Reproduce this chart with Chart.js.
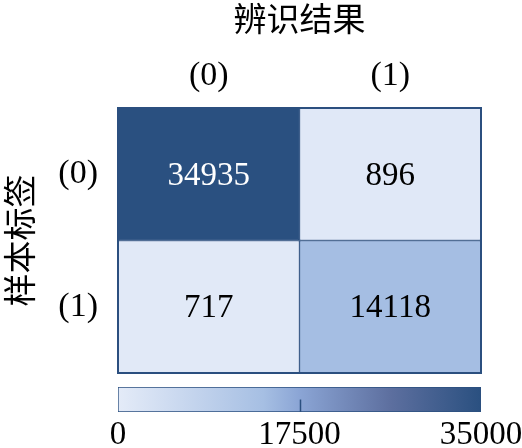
<!DOCTYPE html>
<html>
<head>
<meta charset="utf-8">
<script src="https://cdn.jsdelivr.net/npm/chart.js@4"></script>
<style>
  html, body { margin: 0; padding: 0; background: #fff; }
  #wrap { position: relative; width: 522px; height: 448px; }
  #wrap canvas { position: absolute; left: 0; }
  #mainChart { top: 0; }
  #barChart { top: 380px; }
</style>
</head>
<body>
<div id="wrap">
  <canvas id="mainChart" width="522" height="448"></canvas>
  <canvas id="barChart" width="522" height="68"></canvas>
</div>
<script>
// Confusion matrix data
const colLabels = ['(0)', '(1)'];
const rowLabels = ['(0)', '(1)'];
const row0 = [34935, 896];
const row1 = [717, 14118];
const colorTicks = [0, 17500, 35000];

const xTitle = '辨识结果';
const yTitle = '样本标签';

const rows = [row0, row1];
const serif = "'Liberation Serif', 'DejaVu Serif', serif";
const cjk = "'Noto Sans CJK SC', sans-serif";
const edge = '#2b4f7f';

// colour map: light blue -> dark navy
const cmap = [
    [0, [228, 235, 248]],
    [0.4, [166, 191, 227]],
    [0.5, [139, 165, 213]],
    [0.75, [93, 111, 159]],
    [1, [42, 80, 128]]
];

function colorFor(v) {
    const max = colorTicks[colorTicks.length - 1];
    const t = Math.max(0, Math.min(1, v / max));
    for (let i = 1; i < cmap.length; i++) {
        if (t <= cmap[i][0]) {
            const [t0, c0] = cmap[i - 1];
            const [t1, c1] = cmap[i];
            const f = (t - t0) / (t1 - t0);
            const c = c0.map((a, k) => Math.round(a + (c1[k] - a) * f));
            return 'rgb(' + c.join(',') + ')';
        }
    }
    return 'rgb(' + cmap[cmap.length - 1][1].join(',') + ')';
}

// cell numbers + outer frame
const cellText = {
    id: 'cellText',
    afterDatasetsDraw(chart) {
        const ctx = chart.ctx;
        const a = chart.chartArea;
        ctx.save();
        ctx.strokeStyle = edge;
        ctx.lineWidth = 2;
        ctx.strokeRect(a.left, a.top, a.right - a.left, a.bottom - a.top);
        ctx.font = '33px ' + serif;
        ctx.textAlign = 'center';
        ctx.textBaseline = 'middle';
        chart.data.datasets.forEach((ds, r) => {
            chart.getDatasetMeta(r).data.forEach((bar, c) => {
                const v = rows[r][c];
                ctx.fillStyle = v > colorTicks[1] ? '#ffffff' : '#000000';
                const p = bar.getCenterPoint();
                ctx.fillText(String(v), p.x, p.y + 2);
            });
        });
        ctx.restore();
    }
};

new Chart(document.getElementById('mainChart'), {
    type: 'bar',
    data: {
        labels: colLabels,
        datasets: rows.map((vals, r) => ({
            data: vals.map(() => [r, r + 1]),
            backgroundColor: vals.map(colorFor),
            borderColor: edge,
            borderWidth: 1,
            borderSkipped: false,
            grouped: false,
            barPercentage: 1,
            categoryPercentage: 1
        }))
    },
    options: {
        responsive: false,
        animation: false,
        devicePixelRatio: 1,
        layout: { padding: { left: 0, right: 41, top: 0, bottom: 75 } },
        plugins: { legend: { display: false }, tooltip: { enabled: false } },
        scales: {
            x: {
                position: 'top',
                grid: { display: false, drawTicks: false },
                border: { display: false },
                ticks: { color: '#000', padding: 15, font: { family: serif, size: 34, lineHeight: 1 } },
                title: {
                    display: true, text: xTitle, color: '#000',
                    padding: { top: 2, bottom: 0 },
                    font: { family: cjk, size: 33, lineHeight: 1 }
                },
                afterFit(s) { s.height = 108; }
            },
            y: {
                min: 0, max: rows.length, reverse: true,
                grid: { display: false, drawTicks: false },
                border: { display: false },
                afterBuildTicks(s) { s.ticks = rowLabels.map((_, i) => ({ value: i + 0.5 })); },
                ticks: {
                    color: '#000', padding: 20,
                    font: { family: serif, size: 34, lineHeight: 1 },
                    callback: (v) => rowLabels[Math.floor(v)]
                },
                title: {
                    display: true, text: yTitle, color: '#000',
                    padding: { top: 3, bottom: 0 },
                    font: { family: cjk, size: 33, lineHeight: 1 }
                },
                afterFit(s) { s.width = 118; }
            }
        }
    },
    plugins: [cellText]
});

// colour bar with inner tick marks
const barTicks = {
    id: 'barTicks',
    afterDatasetsDraw(chart) {
        const ctx = chart.ctx;
        const a = chart.chartArea;
        const sx = chart.scales.x;
        ctx.save();
        ctx.strokeStyle = edge;
        ctx.lineWidth = 1.5;
        colorTicks.slice(1, -1).forEach((v) => {
            const x = Math.round(sx.getPixelForValue(v)) + 0.5;
            ctx.beginPath();
            ctx.moveTo(x, (a.top + a.bottom) / 2);
            ctx.lineTo(x, a.bottom);
            ctx.stroke();
        });
        ctx.restore();
    }
};

new Chart(document.getElementById('barChart'), {
    type: 'bar',
    data: {
        labels: ['scale'],
        datasets: [{
            data: [[colorTicks[0], colorTicks[colorTicks.length - 1]]],
            backgroundColor(c) {
                const area = c.chart.chartArea;
                if (!area) return colorFor(0);
                const g = c.chart.ctx.createLinearGradient(area.left, 0, area.right, 0);
                cmap.forEach(([t, rgb]) => g.addColorStop(t, 'rgb(' + rgb.join(',') + ')'));
                return g;
            },
            borderColor: edge,
            borderWidth: 1,
            borderSkipped: false,
            barPercentage: 1,
            categoryPercentage: 1
        }]
    },
    options: {
        indexAxis: 'y',
        responsive: false,
        animation: false,
        devicePixelRatio: 1,
        layout: { padding: { left: 118, right: 41, top: 7, bottom: 0 } },
        plugins: { legend: { display: false }, tooltip: { enabled: false } },
        scales: {
            y: { display: false },
            x: {
                min: colorTicks[0],
                max: colorTicks[colorTicks.length - 1],
                grid: { display: false, drawTicks: false },
                border: { display: false },
                afterBuildTicks(s) { s.ticks = colorTicks.map((v) => ({ value: v })); },
                ticks: {
                    color: '#000', padding: 7, maxRotation: 0,
                    font: { family: serif, size: 33, lineHeight: 1 },
                    callback: (v) => String(v)
                },
                afterFit(s) {
                    s.height = 36;
                    s.paddingLeft = 0;
                    s.paddingRight = 0;
                }
            }
        }
    },
    plugins: [barTicks]
});
</script>
</body>
</html>
